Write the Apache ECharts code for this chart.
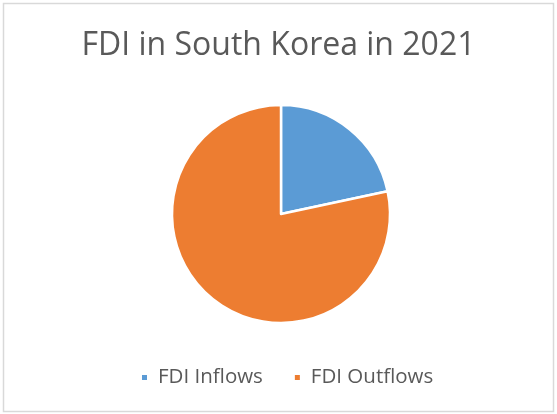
<!DOCTYPE html>
<html>
<head>
<meta charset="utf-8">
<script src="https://cdn.jsdelivr.net/npm/echarts@6/dist/echarts.min.js"></script>
<style>
  html, body { margin: 0; padding: 0; background: #fff; }
  #chart { width: 557px; height: 414px; }
</style>
</head>
<body>
<div id="chart"></div>
<script>
// FDI flows for South Korea, 2021 (USD billion)
const categories = ['FDI Inflows', 'FDI Outflows'];
const values = [16.8, 60.8];
const colors = ['#5B9BD5', '#ED7D31'];
const titleText = 'FDI in South Korea in 2021';

const chart = echarts.init(document.getElementById('chart'), null, { renderer: 'canvas' });

chart.setOption({
  animation: false,
  backgroundColor: '#ffffff',
  title: {
    text: titleText,
    left: 'center',
    top: 25,
    textStyle: {
      fontFamily: 'Open Sans',
      fontSize: 32,
      fontWeight: 'normal',
      color: '#595959'
    }
  },
  legend: {
    data: categories,
    top: 362,
    left: 135,
    padding: [5, 5, 5, 5],
    icon: 'rect',
    itemWidth: 7,
    itemHeight: 7,
    itemGap: 30,
    textStyle: {
      fontFamily: 'Open Sans',
      fontSize: 20.5,
      color: '#595959',
      padding: [0, 0, 0, 5]
    }
  },
  graphic: [{
    type: 'rect',
    shape: { x: 3.5, y: 3.5, width: 550, height: 408 },
    style: { fill: 'none', stroke: '#D9D9D9', lineWidth: 1.5 },
    silent: true,
    z: 0
  }],
  series: [{
    type: 'pie',
    center: [281, 214],
    radius: [0, 109],
    startAngle: 90,
    clockwise: true,
    label: { show: false },
    labelLine: { show: false },
    itemStyle: { borderColor: '#ffffff', borderWidth: 2.5 },
    data: categories.map((name, i) => ({
      name: name,
      value: values[i],
      itemStyle: { color: colors[i] }
    }))
  }]
});
</script>
</body>
</html>
